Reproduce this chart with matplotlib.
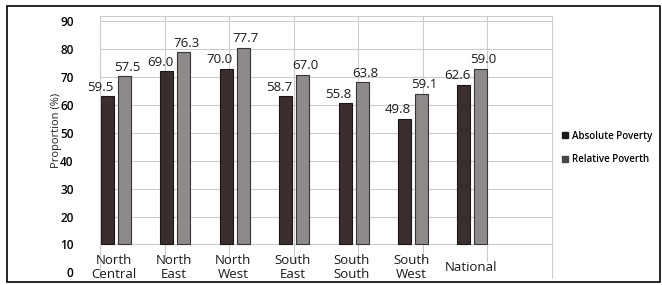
import numpy as np
import matplotlib
matplotlib.use("Agg")
import matplotlib.pyplot as plt
from matplotlib.patches import Patch, Rectangle

plt.rcParams['font.family'] = ['Open Sans', 'DejaVu Sans']

regions = ["North\nCentral", "North\nEast", "North\nWest", "South\nEast",
           "South\nSouth", "South\nWest", "National"]
# bar tops as drawn in the picture (bars start at 10)
abs_top = [63.0, 72.0, 73.0, 63.0, 60.5, 55.0, 67.0]
rel_top = [70.2, 78.8, 80.3, 70.6, 68.0, 64.0, 72.8]
# numbers printed above the bars
abs_labels = [59.5, 69.0, 70.0, 58.7, 55.8, 49.8, 62.6]
rel_labels = [57.5, 76.3, 77.7, 67.0, 63.8, 59.1, 59.0]
bar_base = 10
yticks = [0, 10, 20, 30, 40, 50, 60, 70, 80, 90]

fig = plt.figure(figsize=(6.62, 2.85), dpi=100)
ax = fig.add_axes([100/662, 7/285, 452/662, 262/285])

x = np.arange(len(regions))
w = 0.22
off = 0.143
abs_c = "#3b2e2e"
rel_c = "#8f8a8a"

ax.set_xlim(-0.27, 7.34)
ax.set_ylim(-2, 91.8)

for g in yticks[1:]:
    ax.axhline(g, color="#cccccc", lw=0.8, zorder=0)
for v in np.linspace(-0.27, 7.34, 8)[1:-1]:
    ax.plot([v, v], [4, 91.8], color="#cccccc", lw=0.8, zorder=0)

ax.bar(x - off, np.array(abs_top) - bar_base, w, bottom=bar_base,
       color=abs_c, edgecolor="#1a1414", lw=0.8, zorder=2)
ax.bar(x + off, np.array(rel_top) - bar_base, w, bottom=bar_base,
       color=rel_c, edgecolor="#3a3535", lw=0.8, zorder=2)

for i in range(len(regions)):
    ax.annotate(f"{abs_labels[i]:.1f}", (x[i] - off, abs_top[i]),
                xytext=(-5, 2), textcoords="offset points",
                ha="center", va="bottom", fontsize=9.5, color="#1a1a1a")
    ax.annotate(f"{rel_labels[i]:.1f}", (x[i] + off, rel_top[i]),
                xytext=(2, 2), textcoords="offset points",
                ha="center", va="bottom", fontsize=9.5, color="#1a1a1a")
    ax.text(x[i] - 0.03, 1.6, regions[i], ha="center", va="center",
            fontsize=9.5, linespacing=1.1, color="#1a1a1a")

ax.set_xticks([])
ax.set_yticks(yticks)
ax.set_yticklabels([str(t) for t in yticks], fontsize=8.5, fontweight="semibold")
ax.tick_params(axis="y", length=0, pad=19)
for s in ["left", "top", "right"]:
    ax.spines[s].set_color("#cccccc")
    ax.spines[s].set_linewidth(0.8)
ax.spines["bottom"].set_visible(False)

fig.text(56/662, 1 - 130/285, "Proportion (%)", rotation=90,
         ha="center", va="center", fontsize=8, color="#222222")

handles = [Patch(facecolor="#1e1818", edgecolor="#1e1818"),
           Patch(facecolor="#4a4545", edgecolor="#4a4545")]
fig.legend(handles, ["Absolute Poverty", "Relative Poverth"],
           loc="upper left", bbox_to_anchor=(553/662, 1 - 122/285),
           frameon=False, handlelength=0.6, handleheight=0.6,
           handletextpad=0.5, labelspacing=1.3,
           prop={"size": 7, "weight": "semibold"})

fig.add_artist(Rectangle((7/662, 3/285), 653/662, 276/285,
                         transform=fig.transFigure, fill=False,
                         edgecolor="black", lw=1.2))

fig.savefig("out.png", dpi=100)
